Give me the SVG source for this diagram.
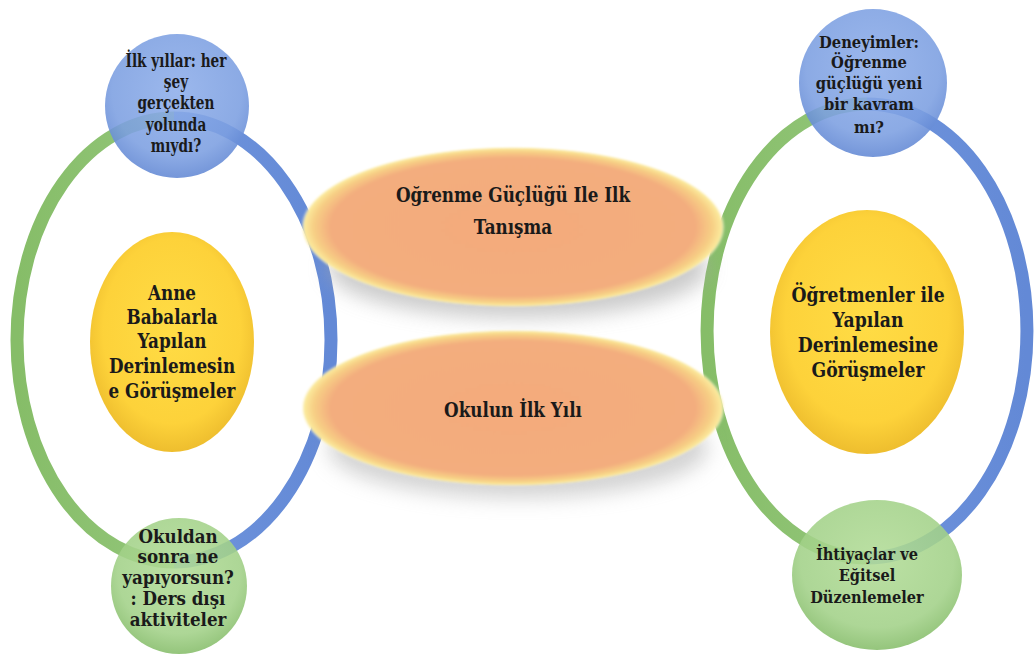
<svg xmlns="http://www.w3.org/2000/svg" width="1035" height="660" viewBox="0 0 1035 660">
  <defs>
    <style>
      .lbl { font-family: "DejaVu Serif", "Liberation Serif", serif; font-weight: bold; fill: #1a1a1a; text-anchor: middle; }
      .s16 { font-size: 16px; }
      .s17 { font-size: 17px; }
      .s18 { font-size: 18px; }
      .s19 { font-size: 19px; }
      .s21 { font-size: 21px; }
      .ring { fill: none; stroke-width: 13; stroke-linecap: butt; }
      .ring-green { stroke: url(#ringGreen); }
      .ring-blue { stroke: url(#ringBlue); }
    </style>
    <linearGradient id="ringGreen" x1="0" y1="0" x2="1" y2="0">
      <stop offset="0" stop-color="#86bd68"/>
      <stop offset="1" stop-color="#93c67a"/>
    </linearGradient>
    <linearGradient id="ringBlue" x1="0" y1="0" x2="1" y2="0">
      <stop offset="0" stop-color="#6f94dc"/>
      <stop offset="1" stop-color="#6389d6"/>
    </linearGradient>
    <radialGradient id="gBlue" cx="0.5" cy="0.4" r="0.6">
      <stop offset="0" stop-color="#8eaeea"/>
      <stop offset="0.75" stop-color="#7c9fe1"/>
      <stop offset="1" stop-color="#6288d4"/>
    </radialGradient>
    <radialGradient id="gGreen" cx="0.5" cy="0.4" r="0.6">
      <stop offset="0" stop-color="#b2dc97"/>
      <stop offset="0.75" stop-color="#a2d188"/>
      <stop offset="1" stop-color="#86bd6a"/>
    </radialGradient>
    <radialGradient id="gYellow" cx="0.5" cy="0.45" r="0.6">
      <stop offset="0" stop-color="#ffdc45"/>
      <stop offset="0.7" stop-color="#fdd23a"/>
      <stop offset="1" stop-color="#e8b62a"/>
    </radialGradient>
    <radialGradient id="gPeach" cx="0.5" cy="0.5" r="0.5">
      <stop offset="0" stop-color="#f4ab7c"/>
      <stop offset="0.86" stop-color="#f3ad7e"/>
      <stop offset="0.94" stop-color="#f7cf85"/>
      <stop offset="0.985" stop-color="#fbea9c"/>
      <stop offset="1" stop-color="#ffffff" stop-opacity="0"/>
    </radialGradient>
    <filter id="soft" x="-10%" y="-20%" width="120%" height="140%">
      <feGaussianBlur stdDeviation="1.2"/>
    </filter>
    <filter id="shadow" x="-20%" y="-40%" width="140%" height="180%">
      <feGaussianBlur stdDeviation="10"/>
    </filter>
  </defs>

  <rect width="1035" height="660" fill="#ffffff"/>

  <!-- connecting rings -->
  <g id="connectors">
    <path class="ring ring-green" d="M174,118 A157,222 0 0,0 174,562"/>
    <path class="ring ring-blue" d="M174,118 A157,222 0 0,1 174,562"/>
    <path class="ring ring-green" d="M867,104 A160,227 0 0,0 867,558"/>
    <path class="ring ring-blue" d="M867,104 A160,227 0 0,1 867,558"/>
  </g>

  <!-- left group -->
  <g id="left-top">
    <circle cx="177" cy="106" r="72" fill="url(#gBlue)" opacity="0.88"/>
    <g transform="translate(176,0) scale(0.76,1)">
      <text class="lbl s18" x="0" y="67">İlk yıllar: her</text>
      <text class="lbl s18" x="0" y="88">şey</text>
      <text class="lbl s18" x="0" y="109">gerçekten</text>
      <text class="lbl s18" x="0" y="131">yolunda</text>
      <text class="lbl s18" x="0" y="152">mıydı?</text>
    </g>
  </g>

  <g id="left-center">
    <ellipse cx="172" cy="342" rx="82" ry="110" fill="url(#gYellow)"/>
    <g transform="translate(172,0) scale(0.8,1)">
      <text class="lbl s21" x="0" y="300">Anne</text>
      <text class="lbl s21" x="0" y="324">Babalarla</text>
      <text class="lbl s21" x="0" y="348">Yapılan</text>
      <text class="lbl s21" x="0" y="373">Derinlemesin</text>
      <text class="lbl s21" x="0" y="398">e Görüşmeler</text>
    </g>
  </g>

  <g id="left-bottom">
    <ellipse cx="179" cy="586" rx="68" ry="68" fill="url(#gGreen)" opacity="0.88"/>
    <g transform="translate(178,0) scale(0.88,1)">
      <text class="lbl s19" x="0" y="543">Okuldan</text>
      <text class="lbl s19" x="0" y="563">sonra ne</text>
      <text class="lbl s19" x="0" y="584">yapıyorsun?</text>
      <text class="lbl s19" x="0" y="605">: Ders dışı</text>
      <text class="lbl s19" x="0" y="626">aktiviteler</text>
    </g>
  </g>

  <!-- right group -->
  <g id="right-top">
    <circle cx="873" cy="83" r="74" fill="url(#gBlue)" opacity="0.88"/>
    <g transform="translate(869,0) scale(0.92,1)">
      <text class="lbl s16" x="0" y="48">Deneyimler:</text>
      <text class="lbl s16" x="0" y="68">Öğrenme</text>
      <text class="lbl s16" x="0" y="89">güçlüğü yeni</text>
      <text class="lbl s16" x="0" y="110">bir kavram</text>
      <text class="lbl s16" x="0" y="133">mı?</text>
    </g>
  </g>

  <g id="right-center">
    <ellipse cx="867" cy="332" rx="97" ry="122" fill="url(#gYellow)"/>
    <g transform="translate(868,0) scale(0.82,1)">
      <text class="lbl s21" x="0" y="302">Öğretmenler ile</text>
      <text class="lbl s21" x="0" y="327">Yapılan</text>
      <text class="lbl s21" x="0" y="352">Derinlemesine</text>
      <text class="lbl s21" x="0" y="377">Görüşmeler</text>
    </g>
  </g>

  <g id="right-bottom">
    <ellipse cx="877" cy="575" rx="85" ry="75" fill="url(#gGreen)" opacity="0.88"/>
    <g transform="translate(867,0) scale(0.86,1)">
      <text class="lbl s17" x="0" y="560">İhtiyaçlar ve</text>
      <text class="lbl s17" x="0" y="581">Eğitsel</text>
      <text class="lbl s17" x="0" y="603">Düzenlemeler</text>
    </g>
  </g>

  <!-- middle ovals -->
  <g id="mid-top">
    <ellipse cx="518" cy="268" rx="190" ry="50" fill="#a8a8a8" opacity="0.6" filter="url(#shadow)"/>
    <ellipse cx="513" cy="227" rx="212" ry="80" fill="url(#gPeach)" filter="url(#soft)"/>
    <g transform="translate(513,0) scale(0.8,1)">
      <text class="lbl s21" x="0" y="202">Oğrenme Güçlüğü Ile Ilk</text>
      <text class="lbl s21" x="0" y="234">Tanışma</text>
    </g>
  </g>

  <g id="mid-bottom">
    <ellipse cx="518" cy="448" rx="190" ry="50" fill="#a8a8a8" opacity="0.5" filter="url(#shadow)"/>
    <ellipse cx="513" cy="408" rx="212" ry="78" fill="url(#gPeach)" filter="url(#soft)"/>
    <g transform="translate(513,0) scale(0.8,1)">
      <text class="lbl s21" x="0" y="417">Okulun İlk Yılı</text>
    </g>
  </g>
</svg>
